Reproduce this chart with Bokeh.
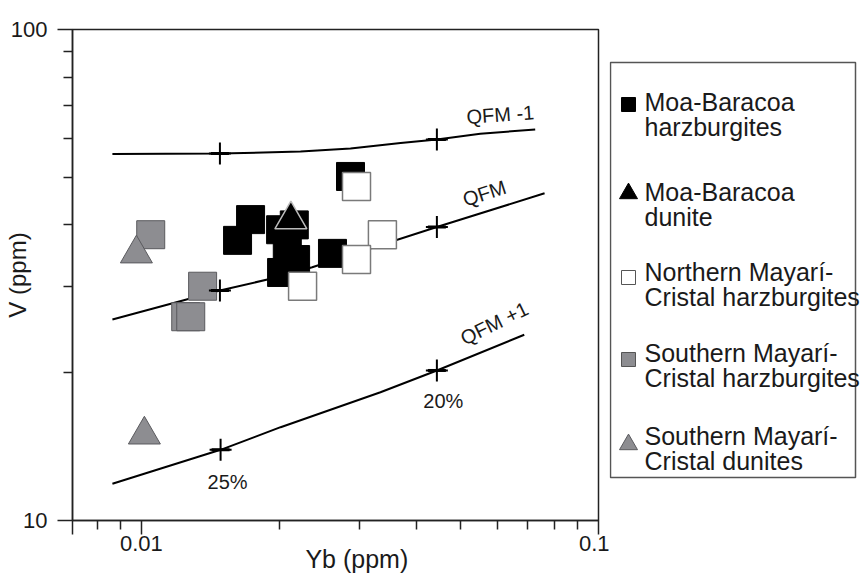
from bokeh.plotting import figure
from bokeh.layouts import row
from bokeh.models import Range1d, FixedTicker, CustomJSTickFormatter, ColumnDataSource, LogAxis
from bokeh.core.properties import value
from bokeh.embed import file_html
from bokeh.resources import INLINE

FONT = "Liberation Sans"
INK = "#1a1a1a"

# ---------------- data (Yb ppm, V ppm) ----------------
mb_harz_yb = [0.02867, 0.01733, 0.01623, 0.02016, 0.02160, 0.02085, 0.02174, 0.02026, 0.02618]
mb_harz_v = [50.2, 41.0, 37.2, 39.1, 40.0, 36.3, 34.0, 32.0, 35.0]

mb_dun_yb = [0.02123]
mb_dun_v = [41.0]

nmc_harz_yb = [0.02955, 0.03367, 0.02955, 0.02252]
nmc_harz_v = [47.9, 38.2, 34.0, 30.0]

smc_harz_yb = [0.01048, 0.01361, 0.01250, 0.01282]
smc_harz_v = [38.2, 30.0, 26.0, 26.0]

smc_dun_yb = [0.00975, 0.01015]
smc_dun_v = [34.95, 14.95]

# melting model curves
qfm_m1_yb = [0.00864, 0.01485, 0.02229, 0.02867, 0.0369, 0.0443, 0.05513, 0.0727]
qfm_m1_v = [55.8, 55.9, 56.4, 57.2, 58.7, 59.7, 61.3, 62.6]
qfm_yb = [0.00864, 0.01485, 0.01918, 0.02364, 0.0443, 0.07621]
qfm_v = [25.67, 29.4, 31.07, 32.8, 39.6, 46.4]
qfm_p1_yb = [0.00864, 0.0149, 0.02016, 0.03334, 0.0443, 0.0688]
qfm_p1_v = [11.88, 13.93, 15.49, 18.25, 20.21, 23.89]

# melting-degree marks on the curves
cross_yb = [0.01485, 0.0443, 0.01485, 0.0443, 0.0149, 0.0443]
cross_v = [55.9, 59.7, 29.4, 39.6, 13.93, 20.21]

x_major = [0.01, 0.1]
x_minor = [0.008, 0.009, 0.02, 0.03, 0.04, 0.05, 0.06, 0.07, 0.08, 0.09]
y_major = [10, 100]
y_minor = [20, 30, 40, 50, 60, 70, 80, 90]

x_title = "Yb (ppm)"
y_title = "V (ppm)"

legend_line1 = ["Moa-Baracoa", "Moa-Baracoa", "Northern Mayarí-", "Southern Mayarí-", "Southern Mayarí-"]
legend_line2 = ["harzburgites", "dunite", "Cristal harzburgites", "Cristal harzburgites", "Cristal dunites"]

X0 = 10 ** (-2.1508)
XTITLE_AT = 0.0296   # x position where the x-axis title is centred

# ---------------- main plot ----------------
p = figure(width=609, height=580, x_axis_type="log", y_axis_type="log",
           x_range=Range1d(X0, 0.1), y_range=Range1d(10, 100),
           output_backend="svg", toolbar_location=None,
           min_border_left=72, min_border_right=11, min_border_top=29, min_border_bottom=60)
p.grid.visible = False
p.background_fill_color = "white"
p.border_fill_color = "white"
p.outline_line_color = "#222222"
p.outline_line_width = 1.5

xa = p.xaxis[0]
xa.ticker = FixedTicker(ticks=[X0] + x_major, minor_ticks=x_minor)
xa.formatter = CustomJSTickFormatter(code="return tick > 0.0095 ? String(tick) : '';")
ya = p.yaxis[0]
ya.ticker = FixedTicker(ticks=y_major, minor_ticks=y_minor)
ya.formatter = CustomJSTickFormatter(code="return String(Math.round(tick));")
for ax, tout, stand in ((xa, 14, 1), (ya, 15, 10)):
    ax.axis_line_color = "#222222"
    ax.axis_line_width = 1.5
    ax.major_tick_line_color = "#222222"
    ax.major_tick_line_width = 1.5
    ax.minor_tick_line_color = "#222222"
    ax.minor_tick_line_width = 1.5
    ax.major_tick_in = 0
    ax.major_tick_out = tout
    ax.minor_tick_in = 0
    ax.minor_tick_out = 9
    ax.major_label_standoff = stand
    ax.major_label_text_font = FONT
    ax.major_label_text_font_size = "22px"
    ax.major_label_text_color = INK
    ax.axis_label_text_font = FONT
    ax.axis_label_text_font_size = "24px"
    ax.axis_label_text_font_style = "normal"
    ax.axis_label_text_color = INK

ya.axis_label = y_title
ya.axis_label_standoff = -23

# x-axis title: a second, line-less axis whose single tick label is the title
xt = LogAxis(ticker=FixedTicker(ticks=[XTITLE_AT], minor_ticks=[]),
             formatter=CustomJSTickFormatter(args=dict(t=x_title), code="return t;"))
xt.axis_line_color = None
xt.major_tick_line_color = None
xt.minor_tick_line_color = None
xt.major_tick_in = 0
xt.major_tick_out = 0
xt.minor_tick_in = 0
xt.minor_tick_out = 0
xt.major_label_standoff = -9
xt.major_label_text_font = FONT
xt.major_label_text_font_size = "25px"
xt.major_label_text_color = INK
p.add_layout(xt, "below")

# model curves
for xs, ys in ((qfm_m1_yb, qfm_m1_v), (qfm_yb, qfm_v), (qfm_p1_yb, qfm_p1_v)):
    p.line(xs, ys, line_color="black", line_width=2)

# samples
p.scatter(mb_harz_yb, mb_harz_v, marker="square", size=28, fill_color="black", line_color="black", line_width=1)
p.scatter(nmc_harz_yb, nmc_harz_v, marker="square", size=28, fill_color="white", line_color="#7a7a7a", line_width=1.5)
p.scatter(mb_dun_yb, mb_dun_v, marker="triangle", size=32, fill_color="black", line_color="#bbbbbb", line_width=1.5)
p.scatter(smc_harz_yb, smc_harz_v, marker="square", size=28, fill_color="#8d8d91", line_color="#5a5a5e", line_width=1)
p.scatter(smc_dun_yb, smc_dun_v, marker="triangle", size=32, fill_color="#8d8d91", line_color="#5a5a5e", line_width=1)

# melting marks
p.scatter(cross_yb, cross_v, marker="cross", size=22, line_color="black", line_width=2)
p.scatter(cross_yb, cross_v, marker="dash", size=18, line_color="black", line_width=3)

# curve labels
lab_kw = dict(text_font=value(FONT), text_font_size="20px", text_color=INK,
              text_align="center", text_baseline="middle", angle_units="deg")
p.text(x=[0.06099], y=[67.1], text=["QFM -1"], angle=4, **lab_kw)
p.text(x=[0.05627], y=[46.4], text=["QFM"], angle=18, **lab_kw)
p.text(x=[0.05916], y=[25.2], text=["QFM +1"], angle=26, **lab_kw)
p.text(x=[0.01543], y=[11.97], text=["25%"], angle=0, **lab_kw)
p.text(x=[0.04575], y=[17.55], text=["20%"], angle=0, **lab_kw)

# ---------------- legend panel (page-pixel coordinates) ----------------
q = figure(width=252, height=580, x_range=Range1d(0, 252), y_range=Range1d(520, 29),
           output_backend="svg", toolbar_location=None,
           min_border_left=0, min_border_right=0, min_border_top=29, min_border_bottom=60,
           x_axis_location=None, y_axis_location=None)
q.grid.visible = False
q.outline_line_color = None
q.background_fill_color = "white"
q.border_fill_color = "white"

q.quad(left=[1], right=[246], top=[62], bottom=[477], fill_color=None, line_color="#555555", line_width=1.5)

leg_marker_y = [104, 193, 277, 359, 444]
leg_src = ColumnDataSource(dict(
    x=[19] * 5, y=leg_marker_y,
    marker=["square", "triangle", "square", "square", "triangle"],
    size=[14, 18, 14, 14, 18],
    fill=["black", "black", "white", "#8d8d91", "#8d8d91"],
    line=["black", "black", "#555555", "#555555", "#5a5a5e"],
))
q.scatter(x="x", y="y", marker="marker", size="size", fill_color="fill", line_color="line",
          line_width=1, source=leg_src)

line1_y = [101, 191, 271, 352, 435]
line2_y = [y + 25 for y in line1_y]
txt_kw = dict(text_font=value(FONT), text_font_size="25px", text_color=INK,
              text_align="left", text_baseline="alphabetic")
q.text(x=[35] * 5, y=line1_y, text=legend_line1, **txt_kw)
q.text(x=[35] * 5, y=line2_y, text=legend_line2, **txt_kw)

layout = row(p, q)
open("out.html", "w").write(file_html(layout, INLINE))
